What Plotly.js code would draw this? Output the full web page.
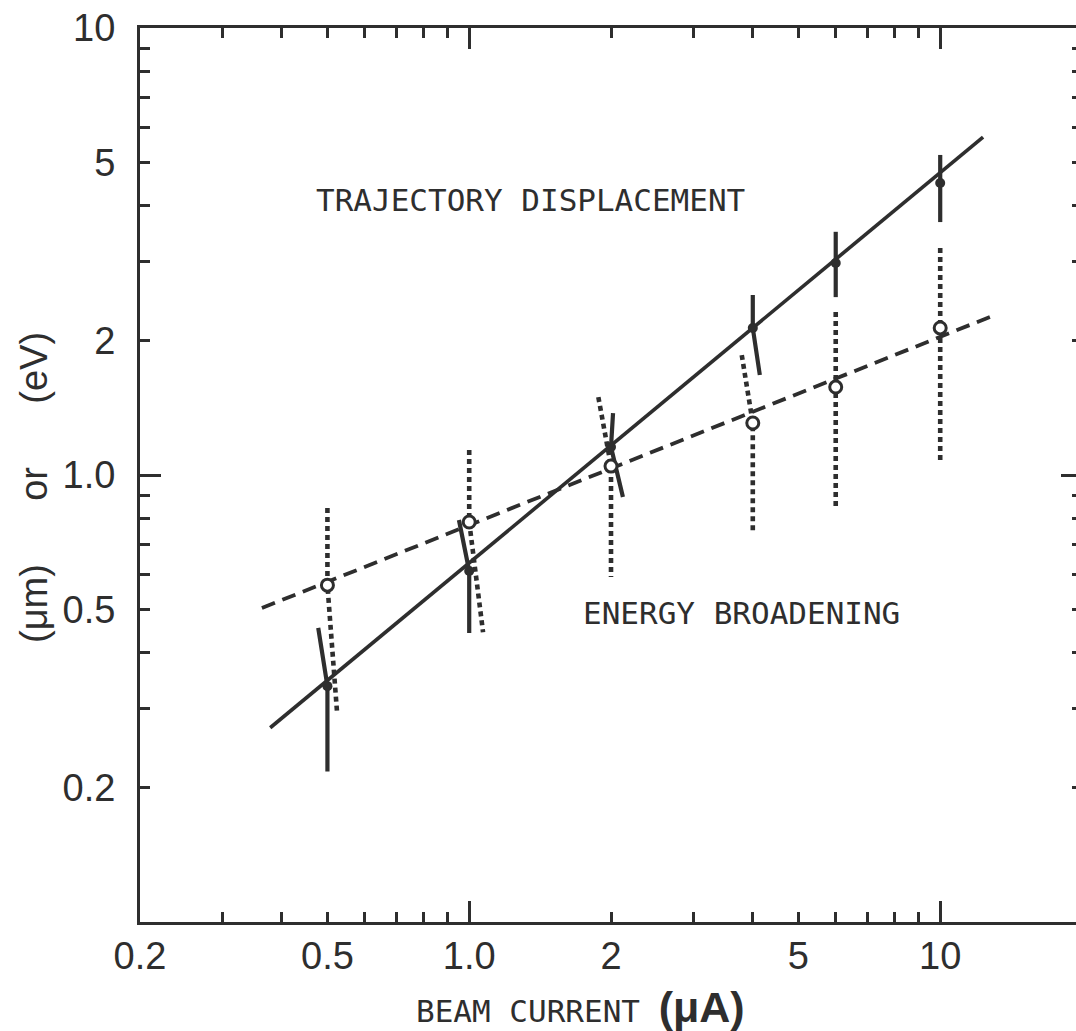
<!DOCTYPE html>
<html><head><meta charset="utf-8">
<script src="https://cdn.plot.ly/plotly-3.0.1.min.js"></script>
<style>html,body{margin:0;padding:0;overflow:hidden;background:#fff}#chart{width:1100px;height:1031px}</style>
</head><body><div id="chart"></div>
<script>
// Beam current (μA)
const currents = [0.5, 1, 2, 4, 6, 10];
// Trajectory displacement (μm)
const tdValue = [0.337, 0.610, 1.155, 2.133, 2.98, 4.50];
const tdHigh  = [0.455, 0.793, 1.376, 2.527, 3.50, 5.20];
const tdLow   = [0.217, 0.443, 0.893, 1.674, 2.50, 3.68];
const tdHighX = [0.478, 0.951, 2.02, 4, 6, 10];
const tdLowX  = [0.5, 1, 2.12, 4.14, 6, 10];
// Energy broadening (eV)
const ebValue = [0.567, 0.785, 1.047, 1.307, 1.573, 2.133];
const ebHigh  = [0.844, 1.137, 1.494, 1.855, 2.316, 3.22];
const ebLow   = [0.295, 0.445, 0.591, 0.746, 0.848, 1.064];
const ebHighX = [0.5, 1, 1.88, 3.79, 6, 10];
const ebLowX  = [0.524, 1.07, 2, 4, 6, 10];
// Fitted lines
const tdFitX = [0.378, 12.33];
const tdFitY = [0.272, 5.70];
const ebFitX = [0.363, 13.06];
const ebFitY = [0.504, 2.28];
// Ticks
const xTickVals = [0.2, 0.5, 1, 2, 5, 10];
const xTickText = ['0.2', '0.5', '1.0', '2', '5', '10'];
const yTickVals = [0.2, 0.5, 1, 2, 5, 10];
const yTickText = ['0.2', '0.5', '1.0', '2', '5', '10'];
const minorVals = [0.3, 0.4, 0.6, 0.7, 0.8, 0.9, 3, 4, 6, 7, 8, 9];
const decadeVals = [1, 10];
const topTickVals = [0.3, 0.4, 0.5, 0.6, 0.7, 0.8, 0.9, 2, 3, 4, 5, 6, 7, 8, 9];

const ink = '#2e2e2e';

function bars(xc, v, hi, lo, hx, lx) {
  const X = [], Y = [];
  for (let i = 0; i < xc.length; i++) {
    X.push(hx[i], xc[i], lx[i], null);
    Y.push(hi[i], v[i], lo[i], null);
  }
  return {X, Y};
}
const tdB = bars(currents, tdValue, tdHigh, tdLow, tdHighX, tdLowX);
const ebB = bars(currents, ebValue, ebHigh, ebLow, ebHighX, ebLowX);

const hidden = {mode: 'markers', marker: {opacity: 0}, hoverinfo: 'skip'};
const traces = [
  {x: tdFitX, y: tdFitY, mode: 'lines', line: {color: ink, width: 3.6}, hoverinfo: 'skip'},
  {x: ebFitX, y: ebFitY, mode: 'lines', line: {color: ink, width: 3.8, dash: '14px,8px'}, hoverinfo: 'skip'},
  {x: tdB.X, y: tdB.Y, mode: 'lines', line: {color: ink, width: 4.2}, hoverinfo: 'skip'},
  {x: ebB.X, y: ebB.Y, mode: 'lines', line: {color: ink, width: 4.6, dash: '5px,4px'}, hoverinfo: 'skip'},
  {x: currents, y: tdValue, mode: 'markers', marker: {color: ink, size: 10}},
  {x: currents, y: ebValue, mode: 'markers', marker: {color: '#fff', size: 12, line: {color: ink, width: 3}}},
  Object.assign({x: [1], y: [1], xaxis: 'x2', yaxis: 'y2'}, hidden),
  Object.assign({x: [1], y: [1], xaxis: 'x3', yaxis: 'y'}, hidden),
  Object.assign({x: [1], y: [1], xaxis: 'x4', yaxis: 'y'}, hidden)
];

const tickFont = {family: 'Liberation Sans, Arial, sans-serif', size: 38, color: ink};
const monoFont = {family: 'DejaVu Sans Mono, monospace', size: 31, color: ink};
const xr = [Math.log10(0.2), Math.log10(20)];
const yr = [-1, 1];
const tickOnly = {showticklabels: false, showline: false, showgrid: false, zeroline: false,
                  ticks: 'inside', tickwidth: 3, tickcolor: ink, tickmode: 'array'};

const layout = {
  width: 1100, height: 1031,
  margin: {l: 140, r: 18, t: 28, b: 109},
  paper_bgcolor: '#fff', plot_bgcolor: '#fff',
  showlegend: false,
  xaxis: {
    type: 'log', range: xr, tickmode: 'array', tickvals: xTickVals, ticktext: xTickText,
    ticks: 'inside', ticklen: 10, tickwidth: 3, tickcolor: ink,
    showline: true, linewidth: 3, linecolor: ink, mirror: 'ticks',
    showgrid: false, zeroline: false, tickfont: tickFont, ticklabelstandoff: -2,
    minor: {tickmode: 'array', tickvals: minorVals.concat([20]), ticks: 'inside', ticklen: 10, tickwidth: 3, tickcolor: ink, showgrid: false}
  },
  yaxis: {
    type: 'log', range: yr, tickmode: 'array', tickvals: yTickVals, ticktext: yTickText,
    ticks: 'inside', ticklen: 10, tickwidth: 3, tickcolor: ink,
    showline: true, linewidth: 3, linecolor: ink, mirror: 'ticks',
    showgrid: false, zeroline: false, tickfont: tickFont, ticklabelstandoff: 14,
    minor: {tickmode: 'array', tickvals: minorVals, ticks: 'inside', ticklen: 10, tickwidth: 3, tickcolor: ink, showgrid: false}
  },
  xaxis2: Object.assign({type: 'log', range: xr, overlaying: 'x', anchor: 'y', side: 'bottom',
    tickvals: decadeVals, ticklen: 21, mirror: 'ticks'}, tickOnly),
  yaxis2: Object.assign({type: 'log', range: yr, overlaying: 'y', anchor: 'x', side: 'left',
    tickvals: decadeVals, ticklen: 21, mirror: 'ticks'}, tickOnly),
  xaxis3: Object.assign({type: 'log', range: xr, overlaying: 'x', anchor: 'y', side: 'top',
    tickvals: topTickVals, ticklen: 10}, tickOnly),
  xaxis4: Object.assign({type: 'log', range: xr, overlaying: 'x', anchor: 'y', side: 'top',
    tickvals: decadeVals, ticklen: 21}, tickOnly),
  annotations: [
    {text: 'TRAJECTORY DISPLACEMENT', x: Math.log10(1.352), y: Math.log10(4.12), xref: 'x', yref: 'y',
     xanchor: 'center', yanchor: 'middle', showarrow: false, font: monoFont},
    {text: 'ENERGY BROADENING', x: Math.log10(3.79), y: Math.log10(0.491), xref: 'x', yref: 'y',
     xanchor: 'center', yanchor: 'middle', showarrow: false, font: monoFont},
    {text: 'BEAM CURRENT <span style="font-family:Liberation Sans, Arial, sans-serif;font-size:43px;font-weight:bold">(μA)</span>',
     x: 580, y: 1007, xref: 'paper', yref: 'paper', xanchor: 'center', yanchor: 'middle', showarrow: false,
     font: monoFont},
    {text: '(μm)\u00a0\u00a0\u00a0\u00a0\u00a0\u00a0or\u00a0\u00a0\u00a0\u00a0\u00a0\u00a0(eV)', textangle: -90,
     x: 34, y: 488, xref: 'paper', yref: 'paper', xanchor: 'center', yanchor: 'middle', showarrow: false,
     font: {family: 'Liberation Sans, Arial, sans-serif', size: 38, color: ink}}
  ]
};
// convert pixel-placed title annotations to paper coords
const pw = layout.width - layout.margin.l - layout.margin.r;
const ph = layout.height - layout.margin.t - layout.margin.b;
[2, 3].forEach(i => {
  const a = layout.annotations[i];
  a.x = (a.x - layout.margin.l) / pw;
  a.y = 1 - (a.y - layout.margin.t) / ph;
});

Plotly.newPlot('chart', traces, layout, {displayModeBar: false, staticPlot: true});
</script>
</body></html>
